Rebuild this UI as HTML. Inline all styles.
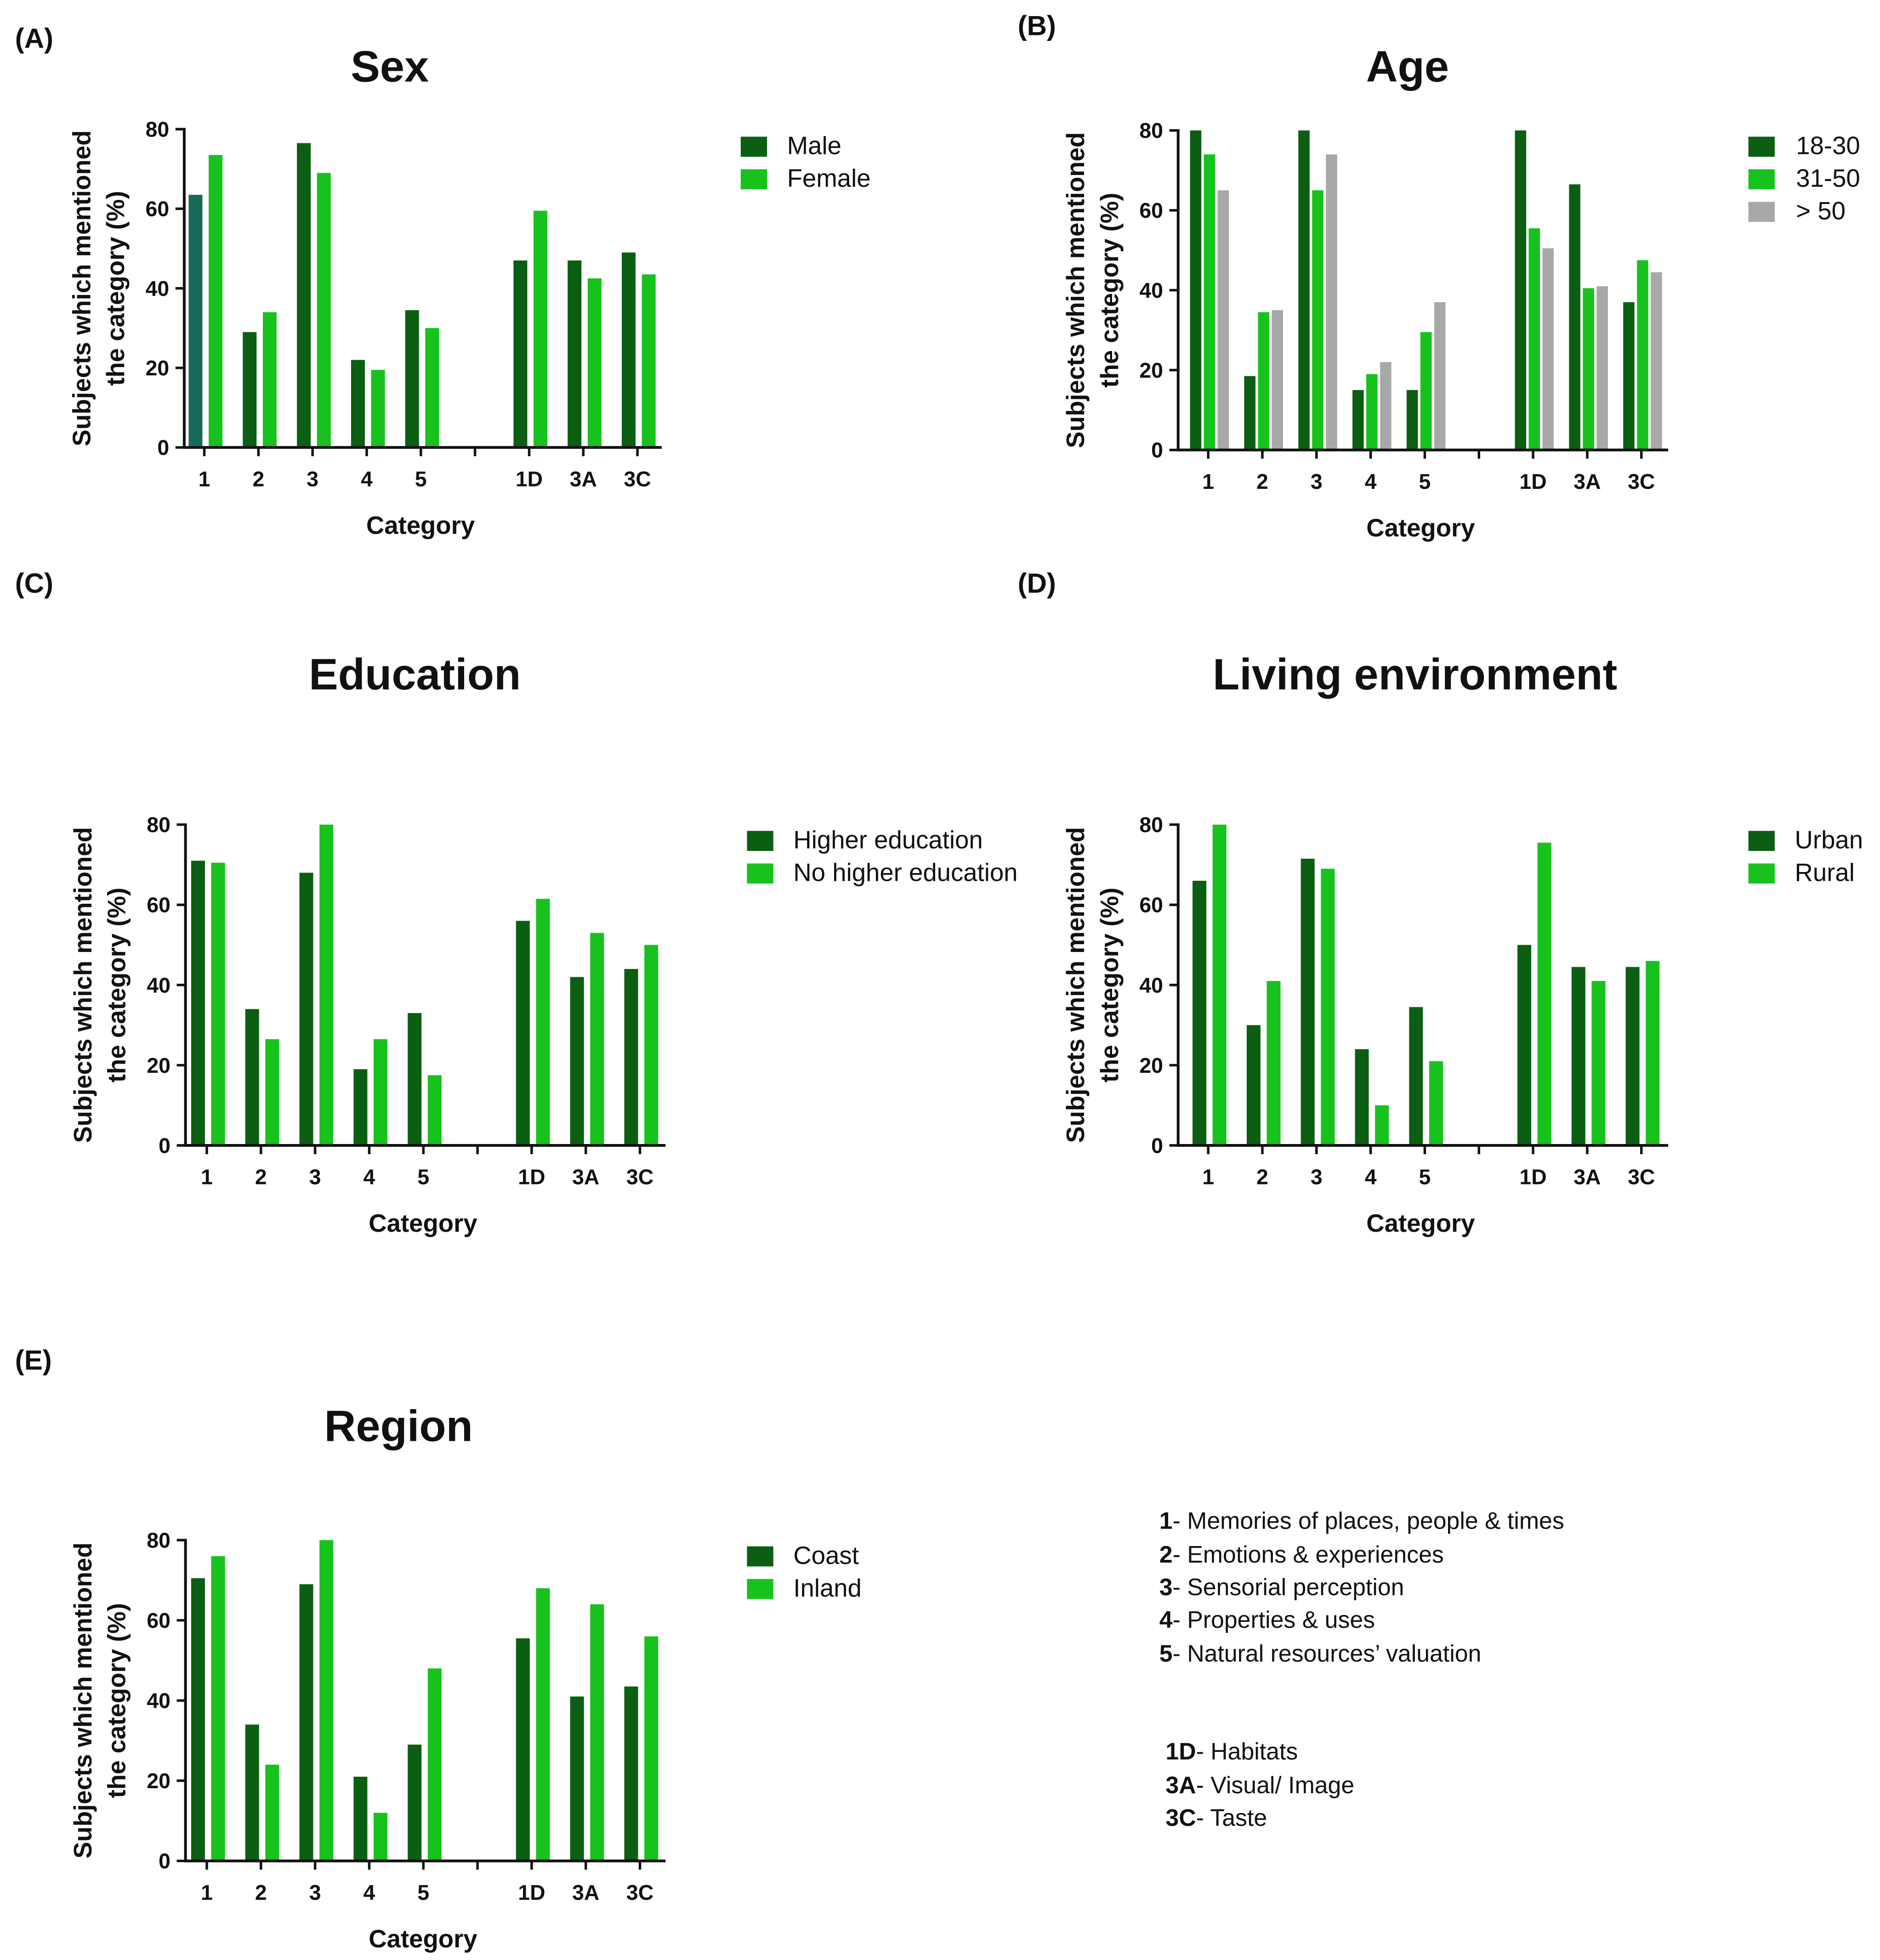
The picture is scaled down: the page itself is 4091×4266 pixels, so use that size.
<!DOCTYPE html>
<html><head><meta charset="utf-8">
<style>
html,body{margin:0;padding:0;background:#fff;}
svg{display:block;}
text{font-family:"Liberation Sans",Arial,sans-serif;fill:#111;}
</style></head>
<body>
<svg id="chart" width="4091" height="4266" viewBox="0 0 1500 1564" xmlns="http://www.w3.org/2000/svg">
<rect x="0" y="0" width="1500" height="1564" fill="#fff"/>
<g id="notes" font-size="19">
<text x="925" y="1220"><tspan font-weight="bold">1</tspan>- Memories of places, people &amp; times</text>
<text x="925" y="1247"><tspan font-weight="bold">2</tspan>- Emotions &amp; experiences</text>
<text x="925" y="1273"><tspan font-weight="bold">3</tspan>- Sensorial perception</text>
<text x="925" y="1299"><tspan font-weight="bold">4</tspan>- Properties &amp; uses</text>
<text x="925" y="1326"><tspan font-weight="bold">5</tspan>- Natural resources’ valuation</text>
<text x="930" y="1404"><tspan font-weight="bold">1D</tspan>- Habitats</text>
<text x="930" y="1431"><tspan font-weight="bold">3A</tspan>-  Visual/ Image</text>
<text x="930" y="1457"><tspan font-weight="bold">3C</tspan>- Taste</text>
</g>
</svg>
<script>
const categories = ["1","2","3","4","5","1D","3A","3C"];
const yTicks = [0,20,40,60,80];
const sexMale = [63.5,29,76.5,22,34.5,47,47,49];
const sexFemale = [73.5,34,69,19.5,30,59.5,42.5,43.5];
const age1830 = [80,18.5,80,15,15,80,66.5,37];
const age3150 = [74,34.5,65,19,29.5,55.5,40.5,47.5];
const age50 = [65,35,74,22,37,50.5,41,44.5];
const eduHigher = [71,34,68,19,33,56,42,44];
const eduNo = [70.5,26.5,80,26.5,17.5,61.5,53,50];
const envUrban = [66,30,71.5,24,34.5,50,44.5,44.5];
const envRural = [80,41,69,10,21,75.5,41,46];
const regCoast = [70.5,34,69,21,29,55.5,41,43.5];
const regInland = [76,24,80,12,48,68,64,56];

const DARK="#0b5e12", LIGHT="#17c21c", GREY="#a8a8a8";
const NS="http://www.w3.org/2000/svg";
const svg=document.getElementById('chart');
function mk(tag,attrs,parent){const e=document.createElementNS(NS,tag);for(const k in attrs)e.setAttribute(k,attrs[k]);(parent||svg).appendChild(e);return e;}

const panels=[
 {id:"sex",letter:"(A)",lx:12,ly:38,title:"Sex",tx:311,ty:65,ax:147,y0:357,y80:103,x1:163,end:528,
  series:[{name:"Male",vals:sexMale,c:DARK},{name:"Female",vals:sexFemale,c:LIGHT}],legX:591,legY:109,legT:628},
 {id:"age",letter:"(B)",lx:812,ly:28,title:"Age",tx:1123,ty:65,ax:940,y0:359,y80:104,x1:964,end:1331,
  series:[{name:"18-30",vals:age1830,c:DARK},{name:"31-50",vals:age3150,c:LIGHT},{name:"> 50",vals:age50,c:GREY}],legX:1395,legY:109,legT:1433},
 {id:"education",letter:"(C)",lx:12,ly:473,title:"Education",tx:331,ty:550,ax:148,y0:914,y80:658,x1:165,end:531,
  series:[{name:"Higher education",vals:eduHigher,c:DARK},{name:"No higher education",vals:eduNo,c:LIGHT}],legX:596,legY:663,legT:633},
 {id:"living",letter:"(D)",lx:812,ly:473,title:"Living environment",tx:1129,ty:550,ax:940,y0:914,y80:658,x1:964,end:1331,
  series:[{name:"Urban",vals:envUrban,c:DARK},{name:"Rural",vals:envRural,c:LIGHT}],legX:1395,legY:663,legT:1432},
 {id:"region",letter:"(E)",lx:12,ly:1093,title:"Region",tx:318,ty:1150,ax:148,y0:1485,y80:1229,x1:165,end:531,
  series:[{name:"Coast",vals:regCoast,c:DARK},{name:"Inland",vals:regInland,c:LIGHT}],legX:596,legY:1234,legT:633}
];
const slotIdx=[0,1,2,3,4,6,7,8];
const SP=43.2;

panels.forEach(p=>{
 const g=mk('g',{});
 
 
 const yS=v=>p.y0-(p.y0-p.y80)*v/80;
 const xS=i=>p.x1+slotIdx[i]*SP;
 const L=mk('text',{x:p.lx,y:p.ly,'font-size':22,'font-weight':'bold'},g);L.textContent=p.letter;
 
 
 const T=mk('text',{x:p.tx,y:p.ty,'font-size':35,'font-weight':'bold','text-anchor':'middle'},g);T.textContent=p.title;
 
 
 const n=p.series.length, bw=n===3?9:11, gap=n===3?2:5;
 const tot=n*bw+(n-1)*gap;
 p.series.forEach((s,si)=>{
  s.vals.forEach((v,i)=>{
   const x=xS(i)-tot/2+si*(bw+gap)+1;
   const fill=(p.id==="sex"&&si===0&&i===0)?"#17695a":s.c;
   const r=mk('rect',{x:x,y:yS(v),width:bw,height:p.y0-yS(v),fill:fill},g);
   
   
  });
 });
 mk('line',{x1:p.ax,y1:p.y80-1,x2:p.ax,y2:p.y0+1,stroke:'#111','stroke-width':2.2},g);
 mk('line',{x1:p.ax-1,y1:p.y0,x2:p.end,y2:p.y0,stroke:'#111','stroke-width':2.2},g);
 yTicks.forEach(t=>{
  mk('line',{x1:p.ax-7,y1:yS(t),x2:p.ax,y2:yS(t),stroke:'#111','stroke-width':2},g);
  const tl=mk('text',{x:p.ax-12,y:yS(t)+6,'font-size':17,'font-weight':'bold','text-anchor':'end'},g);tl.textContent=t;
  
  
 });
 categories.forEach((c,i)=>{
  mk('line',{x1:xS(i),y1:p.y0,x2:xS(i),y2:p.y0+7,stroke:'#111','stroke-width':2},g);
  const tl=mk('text',{x:xS(i),y:p.y0+31,'font-size':17,'font-weight':'bold','text-anchor':'middle'},g);tl.textContent=c;
  
  
 });
 mk('line',{x1:p.x1+5*SP,y1:p.y0,x2:p.x1+5*SP,y2:p.y0+7,stroke:'#111','stroke-width':2},g);
 const xt=mk('text',{x:(p.ax+p.end)/2-2,y:p.y0+69,'font-size':20,'font-weight':'bold','text-anchor':'middle'},g);xt.textContent='Category';
 
 
 const cy=(p.y0+p.y80)/2, axx=p.ax-75;
 const yt=mk('text',{transform:`translate(${axx},${cy}) rotate(-90)`,'font-size':20,'font-weight':'bold','text-anchor':'middle'},g);
 
 
 const t1=mk('tspan',{x:0,y:0},yt);t1.textContent='Subjects which mentioned';
 const t2=mk('tspan',{x:0,y:27},yt);t2.textContent='the category (%)';
 p.series.forEach((s,si)=>{
  const le=mk('g',{},g);
  
  
  mk('rect',{x:p.legX,y:p.legY+si*26,width:21,height:16,fill:s.c},le);
  const lt=mk('text',{x:p.legT,y:p.legY+si*26+14,'font-size':20},le);lt.textContent=s.name;
 });
});
</script>
</body></html>
